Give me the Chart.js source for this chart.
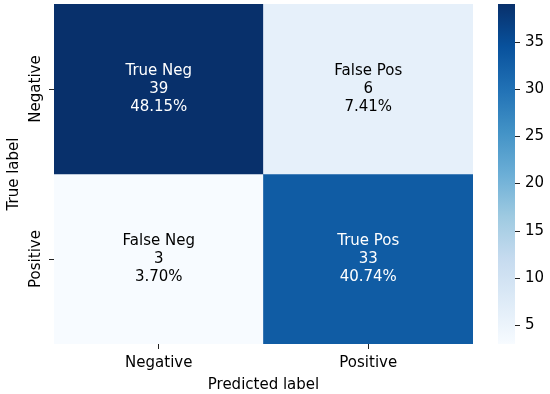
<!DOCTYPE html>
<html lang="en">
<head>
<meta charset="UTF-8">
<title>Confusion matrix</title>
<script src="https://cdn.jsdelivr.net/npm/chart.js"></script>
<style>
  html, body { margin: 0; padding: 0; background: #fff; }
  #wrap { width: 550px; height: 394px; }
</style>
</head>
<body>
<div id="wrap"><canvas id="cm"></canvas></div>
<script>
// data
const classNames = ['Negative', 'Positive'];
const cellNames = [['True Neg', 'False Pos'], ['False Neg', 'True Pos']];
const counts = [[39, 6], [3, 33]];
const colorbarTicks = [5, 10, 15, 20, 25, 30, 35];
const vMin = 3, vMax = 39;

// matplotlib "Blues"
const bluesStops = ['#f7fbff', '#deebf7', '#c6dbef', '#9ecae1', '#6baed6', '#4292c6', '#2171b5', '#08519c', '#08306b'];
const FONT = '15px "DejaVu Sans"';

function hexToRgb(h) {
    return [1, 3, 5].map(i => parseInt(h.substr(i, 2), 16));
}
function blues(t) {
    t = Math.max(0, Math.min(1, t));
    const pos = t * (bluesStops.length - 1);
    const i = Math.min(Math.floor(pos), bluesStops.length - 2);
    const f = pos - i;
    const a = hexToRgb(bluesStops[i]), b = hexToRgb(bluesStops[i + 1]);
    const c = a.map((v, k) => Math.round(v + (b[k] - v) * f));
    return `rgb(${c[0]}, ${c[1]}, ${c[2]})`;
}
function cellColor(v) {
    return blues((v - vMin) / (vMax - vMin));
}
function textColor(v) {
    // seaborn: dark text on light cells
    const c = cellColor(v).match(/\d+/g).map(n => {
        n = n / 255;
        return n <= 0.03928 ? n / 12.92 : Math.pow((n + 0.055) / 1.055, 2.4);
    });
    const lum = 0.2126 * c[0] + 0.7152 * c[1] + 0.0722 * c[2];
    return lum > 0.408 ? '#000000' : '#ffffff';
}
const total = counts.flat().reduce((a, b) => a + b, 0);
const pct = v => (v / total * 100).toFixed(2) + '%';

// cell annotations + rotated row labels
const heatmapText = {
    id: 'heatmapText',
    afterDatasetsDraw(chart) {
        const { ctx, scales: { x, y } } = chart;
        ctx.save();
        ctx.font = FONT;
        ctx.textAlign = 'center';
        ctx.textBaseline = 'middle';
        counts.forEach((row, r) => row.forEach((v, c) => {
            const cx = x.getPixelForValue(c);
            const cy = y.getPixelForValue(r + 0.5);
            ctx.fillStyle = textColor(v);
            [cellNames[r][c], String(v), pct(v)].forEach((s, i) => {
                ctx.fillText(s, cx, cy + (i - 1) * 18);
            });
        }));
        // row tick labels, reading bottom to top
        ctx.fillStyle = '#000';
        classNames.forEach((name, r) => {
            ctx.save();
            ctx.translate(y.left + 36, y.getPixelForValue(r + 0.5));
            ctx.rotate(-Math.PI / 2);
            ctx.fillText(name, 0, 0);
            ctx.restore();
        });
        ctx.restore();
    }
};

// colorbar on the right
const colorbar = {
    id: 'colorbar',
    afterDraw(chart) {
        const { ctx } = chart;
        const cb = chart.scales.cb;
        const left = 498, width = 17;
        const top = cb.getPixelForValue(vMax), bottom = cb.getPixelForValue(vMin);
        const grad = ctx.createLinearGradient(0, bottom, 0, top);
        bluesStops.forEach((c, i) => grad.addColorStop(i / (bluesStops.length - 1), c));
        ctx.save();
        ctx.fillStyle = grad;
        ctx.fillRect(left, top, width, bottom - top);
        ctx.strokeStyle = '#222';
        ctx.lineWidth = 1;
        ctx.fillStyle = '#000';
        ctx.font = FONT;
        ctx.textAlign = 'left';
        ctx.textBaseline = 'middle';
        colorbarTicks.forEach(t => {
            const py = Math.round(cb.getPixelForValue(t)) + 0.5;
            ctx.beginPath();
            ctx.moveTo(left + width, py);
            ctx.lineTo(left + width + 5, py);
            ctx.stroke();
            ctx.fillText(String(t), left + width + 10, py);
        });
        ctx.restore();
    }
};

const ctxCm = document.getElementById('cm').getContext('2d');

new Chart(ctxCm, {
    type: 'bar',
    data: {
        labels: classNames,
        datasets: counts.map((row, r) => ({
            label: classNames[r],
            data: row.map(() => [r, r + 1]),
            backgroundColor: row.map(cellColor),
            borderWidth: 0,
            barPercentage: 1,
            categoryPercentage: 1,
            grouped: false
        }))
    },
    options: {
        responsive: true,
        maintainAspectRatio: false,
        animation: false,
        layout: { padding: { top: 4, right: 77, left: 0, bottom: 0 } },
        plugins: { legend: { display: false }, tooltip: { enabled: false } },
        scales: {
            x: {
                type: 'category',
                offset: true,
                grid: { drawOnChartArea: false, offset: false, tickLength: 5, color: '#222', lineWidth: 1 },
                border: { display: false },
                ticks: { color: '#000', font: { family: 'DejaVu Sans', size: 15 }, padding: 5 },
                title: { display: true, text: 'Predicted label', color: '#000',
                         font: { family: 'DejaVu Sans', size: 15 }, padding: { top: 0, bottom: 0 } },
                afterFit: s => { s.height = 50; }
            },
            y: {
                type: 'linear',
                min: 0,
                max: 2,
                reverse: true,
                afterBuildTicks: s => { s.ticks = [{ value: 0.5 }, { value: 1.5 }]; },
                grid: { drawOnChartArea: false, tickLength: 5, color: '#222', lineWidth: 1 },
                border: { display: false },
                ticks: { display: false },
                title: { display: true, text: 'True label', color: '#000',
                         font: { family: 'DejaVu Sans', size: 15 }, padding: { top: 5, bottom: 0 } },
                afterFit: s => { s.width = 54; }
            },
            cb: {
                type: 'linear',
                position: 'right',
                display: false,
                min: vMin,
                max: vMax
            }
        }
    },
    plugins: [heatmapText, colorbar]
});
</script>
</body>
</html>
